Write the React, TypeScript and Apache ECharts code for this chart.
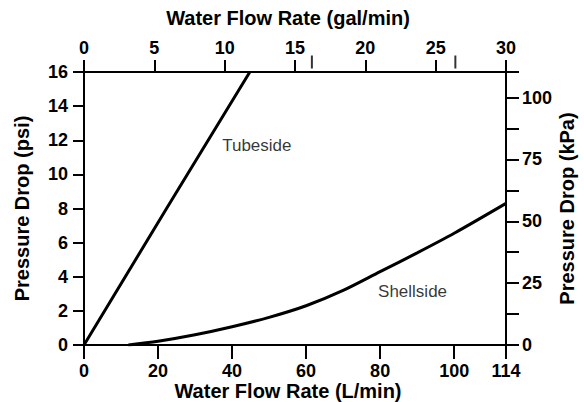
import React, { useEffect, useRef } from "react";
import * as echarts from "echarts";

// L/min vs psi
const tubeside: [number, number][] = [
  [0, 0],
  [22.3, 8],
  [44.8, 16],
];
const shellside: [number, number][] = [
  [12, 0],
  [20, 0.22],
  [30, 0.6],
  [40, 1.07],
  [50, 1.62],
  [60, 2.3],
  [70, 3.2],
  [80, 4.3],
  [90, 5.4],
  [100, 6.55],
  [114, 8.3],
];
const curveLabels = [
  { name: "Tubeside", value: [37.2, 11.7] },
  { name: "Shellside", value: [79.3, 3.15] },
];
const topMarks: [number, number][] = [
  [16.2, 16],
  [26.4, 16],
];
const PSI_TO_KPA = 6.89476;
const psiMax = 16;
const lpmMax = 114;
const galMax = 30;

const FONT = "'Liberation Sans', Arial, Helvetica, sans-serif";

export default function App() {
  const ref = useRef<HTMLDivElement>(null);
  useEffect(() => {
    if (!ref.current) return;
    const chart = echarts.init(ref.current, null, { renderer: "svg" });
    const axisLine = { show: true, onZero: false, lineStyle: { color: "#000", width: 2 } };
    const tickStyle = { color: "#000", width: 2 };
    const labelStyle = { color: "#000", fontSize: 18, fontWeight: "bold" as const, fontFamily: FONT };
    const nameStyle = { color: "#000", fontSize: 20, fontWeight: "bold" as const, fontFamily: FONT };
    chart.setOption({
      animation: false,
      backgroundColor: "#fff",
      grid: { left: 84, right: 78, top: 72, bottom: 57, containLabel: false, outerBoundsMode: "none" },
      xAxis: [
        {
          type: "value",
          position: "bottom",
          min: 0,
          max: lpmMax,
          interval: 20,
          name: "Water Flow Rate (L/min)",
          nameLocation: "middle",
          nameGap: 36,
          nameMoveOverlap: false,
          nameTextStyle: { ...nameStyle, padding: [0, 14, 0, 0] },
          axisLine,
          axisTick: { show: true, length: 14, lineStyle: tickStyle },
          axisLabel: { ...labelStyle, margin: 17, showMaxLabel: true, showMinLabel: true },
          splitLine: { show: false },
        },
        {
          type: "value",
          position: "top",
          min: 0,
          max: galMax,
          interval: 5,
          name: "Water Flow Rate (gal/min)",
          nameLocation: "middle",
          nameGap: 44,
          nameMoveOverlap: false,
          nameTextStyle: { ...nameStyle, padding: [0, 14, 0, 0] },
          axisLine,
          axisTick: { show: true, length: 12, lineStyle: tickStyle },
          axisLabel: { ...labelStyle, margin: 15 },
          splitLine: { show: false },
        },
      ],
      yAxis: [
        {
          type: "value",
          position: "left",
          min: 0,
          max: psiMax,
          interval: 2,
          name: "Pressure Drop (psi)",
          nameLocation: "middle",
          nameRotate: 90,
          nameGap: 52,
          nameMoveOverlap: false,
          nameTextStyle: nameStyle,
          axisLine,
          axisTick: { show: true, length: 11, lineStyle: tickStyle },
          axisLabel: { ...labelStyle, margin: 16 },
          splitLine: { show: false },
        },
        {
          type: "value",
          position: "right",
          min: 0,
          max: psiMax * PSI_TO_KPA,
          interval: 12.5,
          name: "Pressure Drop (kPa)",
          nameLocation: "middle",
          nameRotate: 90,
          nameGap: 51,
          nameMoveOverlap: false,
          nameTextStyle: nameStyle,
          axisLine,
          axisTick: { show: true, length: 13, lineStyle: tickStyle },
          axisLabel: {
            ...labelStyle,
            margin: 16,
            formatter: (v: number) => (Math.abs(v % 25) < 1e-6 && v <= 100 ? String(v) : ""),
          },
          splitLine: { show: false },
        },
      ],
      series: [
        {
          name: "Tubeside",
          type: "line",
          xAxisIndex: 0,
          yAxisIndex: 0,
          data: tubeside,
          showSymbol: false,
          lineStyle: { color: "#000", width: 3 },
        },
        {
          name: "Shellside",
          type: "line",
          xAxisIndex: 0,
          yAxisIndex: 0,
          data: shellside,
          smooth: 0.3,
          showSymbol: false,
          lineStyle: { color: "#000", width: 3 },
        },
        {
          type: "scatter",
          xAxisIndex: 0,
          yAxisIndex: 0,
          data: curveLabels,
          symbolSize: 1,
          itemStyle: { color: "transparent" },
          label: {
            show: true,
            position: "right",
            distance: 0,
            formatter: (p: any) => p.name,
            color: "#000",
            fontSize: 17,
            fontFamily: FONT,
          },
        },
        {
          type: "scatter",
          xAxisIndex: 1,
          yAxisIndex: 0,
          data: topMarks,
          symbol: "rect",
          symbolSize: [2, 13],
          symbolOffset: [0, -10],
          clip: false,
          itemStyle: { color: "#000" },
        },
      ],
    });
    return () => chart.dispose();
  }, []);
  return (
    <div
      ref={ref}
      style={{ position: "fixed", left: 0, top: 0, width: 584, height: 402, background: "#fff" }}
    />
  );
}
